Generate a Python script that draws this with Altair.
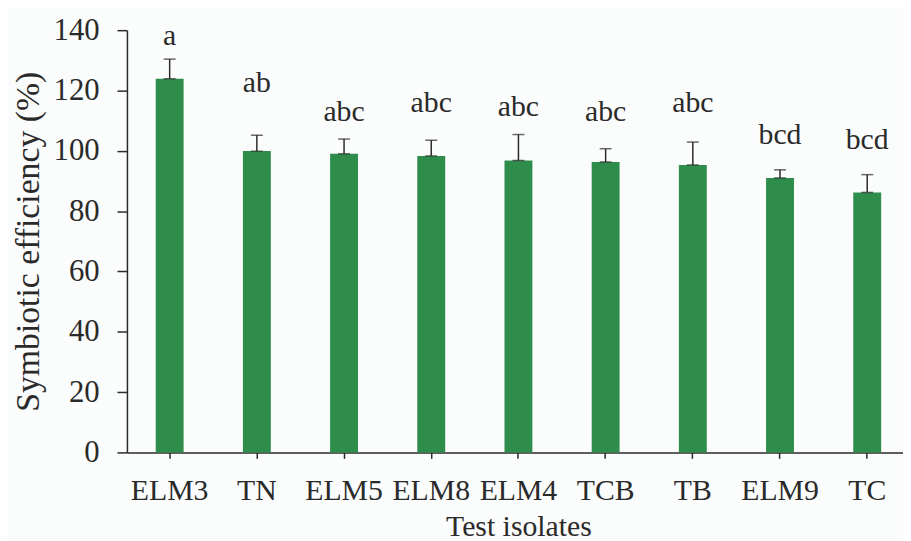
import altair as alt
import pandas as pd

isolates = ["ELM3", "TN", "ELM5", "ELM8", "ELM4", "TCB", "TB", "ELM9", "TC"]
efficiency = [123.9, 99.9, 99.0, 98.3, 96.8, 96.3, 95.3, 91.0, 86.2]
error = [6.5, 5.3, 4.9, 5.2, 8.6, 4.4, 7.6, 2.7, 5.9]
letters = ["a", "ab", "abc", "abc", "abc", "abc", "abc", "bcd", "bcd"]
letter_y = [135.1, 119.6, 109.8, 113.0, 111.4, 109.8, 113.0, 102.2, 100.6]
y_ticks = [0, 20, 40, 60, 80, 100, 120, 140]

df = pd.DataFrame({
    "isolate": isolates,
    "eff": efficiency,
    "top": [v + e for v, e in zip(efficiency, error)],
    "letter": letters,
    "ly": letter_y,
})

FONT = "Liberation Serif"
INK = "#2a2a2a"

x = alt.X(
    "isolate:N",
    sort=isolates,
    title="Test isolates",
    scale=alt.Scale(range=[0, 790], paddingInner=0.68, paddingOuter=0.33),
    axis=alt.Axis(
        labelAngle=0, labelFont=FONT, labelFontSize=30, labelColor=INK,
        titleFont=FONT, titleFontSize=30, titleFontWeight="normal", titleColor=INK,
        tickSize=6, tickColor=INK, tickWidth=1.5, domainColor=INK, domainWidth=1.5,
        labelPadding=18, titlePadding=6, grid=False,
    ),
)
y_scale = alt.Scale(domain=[0, 140], nice=False)
y = alt.Y(
    "eff:Q",
    scale=y_scale,
    title="Symbiotic efficiency (%)",
    axis=alt.Axis(
        values=y_ticks, labelFont=FONT, labelFontSize=31, labelColor=INK,
        titleFont=FONT, titleFontSize=34, titleFontWeight="normal", titleColor=INK,
        tickSize=10, tickColor=INK, tickWidth=1.5, domainColor=INK, domainWidth=1.5,
        labelPadding=18, titlePadding=8, grid=False,
    ),
)

base = alt.Chart(df)
bars = base.mark_bar(color="#2f8d4c").encode(x=x, y=y)
rule = base.mark_rule(color=INK, strokeWidth=1.5).encode(
    x=alt.X("isolate:N", sort=isolates), y=alt.Y("eff:Q", scale=y_scale), y2="top:Q"
)
cap_top = base.mark_tick(color=INK, thickness=1.5, size=12, orient="horizontal").encode(
    x=alt.X("isolate:N", sort=isolates), y=alt.Y("top:Q", scale=y_scale)
)
cap_low = base.mark_tick(color=INK, thickness=1.5, size=12, orient="horizontal").encode(
    x=alt.X("isolate:N", sort=isolates), y=alt.Y("eff:Q", scale=y_scale)
)
labels = base.mark_text(font=FONT, fontSize=30, color=INK, baseline="alphabetic").encode(
    x=alt.X("isolate:N", sort=isolates), y=alt.Y("ly:Q", scale=y_scale), text="letter:N"
)

chart = (
    alt.layer(bars, rule, cap_top, cap_low, labels)
    .properties(
        width=783, height=426,
        autosize=alt.AutoSizeParams(type="none"),
        padding={"left": 120, "top": 20, "right": 0, "bottom": 87},
        background="#fbfcfc",
    )
    .configure_view(stroke=None)
)

chart.save("out.html", embed_options={"renderer": "svg", "actions": False})
